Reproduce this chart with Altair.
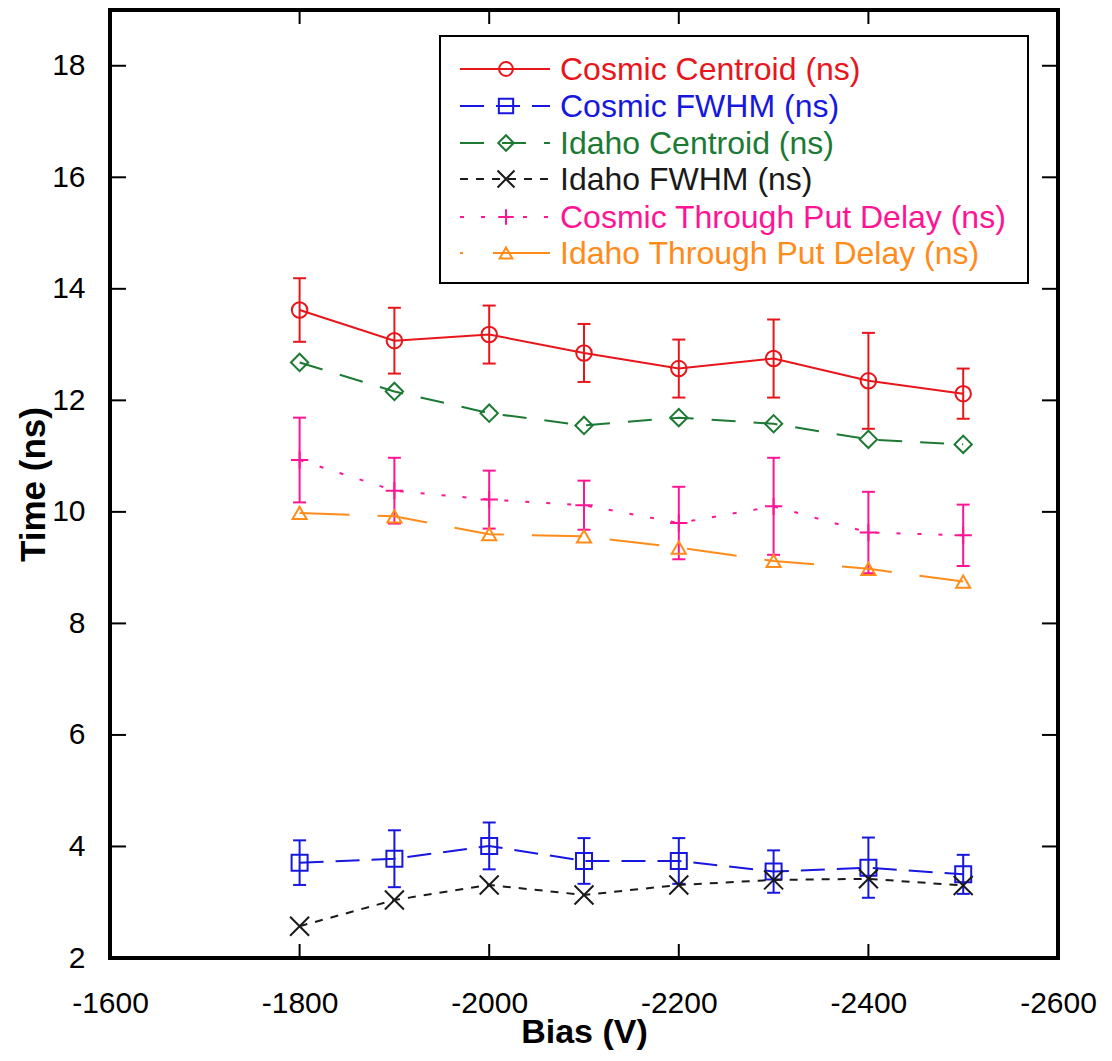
import altair as alt
import pandas as pd

# ---------------- data ----------------
bias = [-1800, -1900, -2000, -2100, -2200, -2300, -2400, -2500]

cosmic_centroid = [13.62, 13.07, 13.18, 12.85, 12.57, 12.75, 12.35, 12.12]
cosmic_centroid_err = [0.57, 0.59, 0.52, 0.52, 0.52, 0.70, 0.86, 0.45]

cosmic_fwhm = [3.71, 3.78, 4.01, 3.74, 3.74, 3.55, 3.62, 3.50]
cosmic_fwhm_err = [0.40, 0.51, 0.42, 0.41, 0.41, 0.38, 0.54, 0.35]

idaho_centroid = [12.68, 12.16, 11.77, 11.55, 11.69, 11.58, 11.30, 11.21]

idaho_fwhm = [2.57, 3.04, 3.31, 3.13, 3.31, 3.40, 3.42, 3.30]

cosmic_tpd = [10.93, 10.38, 10.22, 10.12, 9.80, 10.10, 9.63, 9.58]
cosmic_tpd_err = [0.76, 0.59, 0.52, 0.44, 0.65, 0.87, 0.73, 0.55]

idaho_tpd = [9.98, 9.92, 9.60, 9.56, 9.36, 9.12, 8.98, 8.75]

labels = [
    "Cosmic Centroid (ns)",
    "Cosmic FWHM (ns)",
    "Idaho Centroid (ns)",
    "Idaho FWHM (ns)",
    "Cosmic Through Put Delay (ns)",
    "Idaho Through Put Delay (ns)",
]

x_ticks = [-1600, -1800, -2000, -2200, -2400, -2600]
y_ticks = [2, 4, 6, 8, 10, 12, 14, 16, 18]

# ---------------- styling ----------------
W, H = 948, 948
FONT = "Liberation Sans"

X_PATH = "M-1,-1L1,1M-1,1L1,-1"
PLUS_PATH = "M-1,0L1,0M0,-1L0,1"
CAP_PATH = "M-1,0L1,0"

styles = [
    dict(color="#e8161b", dash=None, shape="circle", size=240),
    dict(color="#1717e0", dash=[24, 12], shape="square", size=256),
    dict(color="#1d7a34", dash=[24, 18], shape="diamond", size=300),
    dict(color="#1a1a1a", dash=[8, 8], shape=X_PATH, size=360),
    dict(color="#ff1493", dash=[4, 17], shape=PLUS_PATH, size=300),
    dict(color="#ff8c1a", dash=[50, 28], shape="triangle-up", size=200),
]

values = [cosmic_centroid, cosmic_fwhm, idaho_centroid, idaho_fwhm, cosmic_tpd, idaho_tpd]
errors = [cosmic_centroid_err, cosmic_fwhm_err, None, None, cosmic_tpd_err, None]

xscale = alt.Scale(domain=[-2600, -1600], reverse=True, nice=False, zero=False)
yscale = alt.Scale(domain=[2, 19], nice=False, zero=False)

x_axis = alt.Axis(
    values=x_ticks, labelExpr="'' + datum.value", labelFont=FONT, labelFontSize=30,
    labelColor="black", labelPadding=30, ticks=False, tickSize=0, domain=False,
    grid=False, labelFlush=False, labelOverlap=False,
    title="Bias (V)", titleFont=FONT, titleFontSize=34, titleFontWeight="bold",
    titleColor="black", titleBaseline="alphabetic", titleY=84,
)
y_axis = alt.Axis(
    values=y_ticks, labelFont=FONT, labelFontSize=30, labelColor="black",
    labelPadding=25, ticks=False, tickSize=0, domain=False, grid=False,
    labelOverlap=False, labelFlush=False,
    title="Time (ns)", titleFont=FONT, titleFontSize=35, titleFontWeight="bold",
    titleColor="black", titleBaseline="alphabetic", titleX=-66,
)


def X(field="bias"):
    return alt.X(f"{field}:Q", scale=xscale, axis=x_axis)


def Y(field="time"):
    return alt.Y(f"{field}:Q", scale=yscale, axis=y_axis)


layers = []

# inward tick marks on all four sides
xt = pd.DataFrame({"bias": x_ticks})
yt = pd.DataFrame({"time": y_ticks})
tick_style = dict(color="black", strokeWidth=2)
layers.append(alt.Chart(xt).mark_rule(**tick_style).encode(x=X(), y=alt.value(H), y2=alt.value(H - 14)))
layers.append(alt.Chart(xt).mark_rule(**tick_style).encode(x=X(), y=alt.value(0), y2=alt.value(14)))
layers.append(alt.Chart(yt).mark_rule(**tick_style).encode(y=Y(), x=alt.value(0), x2=alt.value(16)))
layers.append(alt.Chart(yt).mark_rule(**tick_style).encode(y=Y(), x=alt.value(W), x2=alt.value(W - 16)))

for lab, vals, err, st in zip(labels, values, errors, styles):
    df = pd.DataFrame({"bias": bias, "time": vals})
    line_kw = dict(color=st["color"], strokeWidth=2)
    if st["dash"]:
        line_kw["strokeDash"] = st["dash"]
    layers.append(alt.Chart(df).mark_line(**line_kw).encode(x=X(), y=Y()))
    if err is not None:
        edf = pd.DataFrame({
            "bias": bias,
            "lo": [v - e for v, e in zip(vals, err)],
            "hi": [v + e for v, e in zip(vals, err)],
        })
        layers.append(alt.Chart(edf).mark_rule(color=st["color"], strokeWidth=2).encode(
            x=X(), y=Y("lo"), y2="hi:Q"))
        for end in ["lo", "hi"]:
            layers.append(alt.Chart(edf).mark_point(
                shape=CAP_PATH, size=169, filled=False, color=st["color"], strokeWidth=2, opacity=1
            ).encode(x=X(), y=Y(end)))
    layers.append(alt.Chart(df).mark_point(
        shape=st["shape"], size=st["size"], filled=False, color=st["color"],
        strokeWidth=2, opacity=1,
    ).encode(x=X(), y=Y()))

# ---------------- legend (drawn inside the plot, top right) ----------------
one = pd.DataFrame({"k": [0]})
layers.append(alt.Chart(one).mark_rect(fill="white", stroke="black", strokeWidth=2).encode(
    x=alt.value(330), x2=alt.value(918), y=alt.value(26), y2=alt.value(273)))
row_y = [59, 96, 133, 169, 207, 243]
for lab, st, ry in zip(labels, styles, row_y):
    rk = dict(color=st["color"], strokeWidth=2)
    if st["dash"]:
        rk["strokeDash"] = st["dash"] if st["dash"][0] < 30 else [3, 30, 60, 0]
    layers.append(alt.Chart(one).mark_rule(**rk).encode(
        x=alt.value(350), x2=alt.value(440), y=alt.value(ry)))
    layers.append(alt.Chart(one).mark_point(
        shape=st["shape"], size=st["size"] * 0.8, filled=False, color=st["color"],
        strokeWidth=2, opacity=1,
    ).encode(x=alt.value(396), y=alt.value(ry)))
    layers.append(alt.Chart(one).mark_text(
        align="left", baseline="middle", font=FONT, fontSize=32, color=st["color"],
    ).encode(x=alt.value(450), y=alt.value(ry + 1), text=alt.value(lab)))

chart = alt.layer(*layers).properties(
    width=W, height=H,
    autosize=alt.AutoSizeParams(type="none"),
    padding={"left": 102, "top": 2, "right": 46, "bottom": 94},
    background="white",
).configure_view(stroke="black", strokeWidth=4)

chart.save("out.html", embed_options={"renderer": "svg", "actions": False})
